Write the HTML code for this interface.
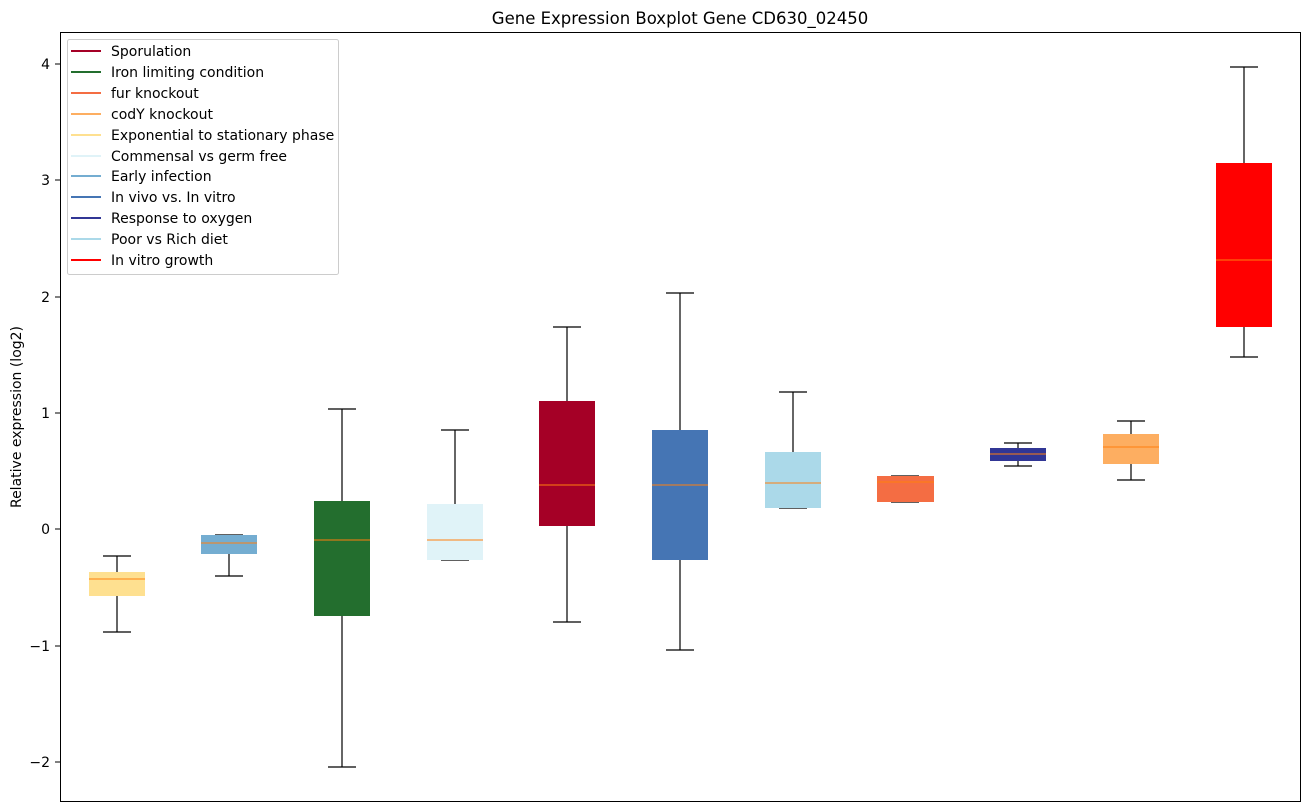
<!DOCTYPE html>
<html><head><meta charset="utf-8"><style>
html,body{margin:0;padding:0;background:#fff;}
svg{display:block;font-family:"DejaVu Sans","Liberation Sans",sans-serif;}
</style></head><body>
<svg width="1309" height="812" viewBox="0 0 1309 812" xmlns="http://www.w3.org/2000/svg">
<rect width="1309" height="812" fill="#fff"/>
<text x="680" y="24" font-size="16.5" text-anchor="middle" fill="#000">Gene Expression Boxplot Gene CD630_02450</text>
<text transform="translate(21,417) rotate(-90)" font-size="14" text-anchor="middle" fill="#000">Relative expression (log2)</text>
<g font-size="14" fill="#000" text-anchor="end">
<line x1="55" y1="64" x2="60" y2="64" stroke="#000"/><text x="50" y="69">4</text>
<line x1="55" y1="180" x2="60" y2="180" stroke="#000"/><text x="50" y="185">3</text>
<line x1="55" y1="297" x2="60" y2="297" stroke="#000"/><text x="50" y="302">2</text>
<line x1="55" y1="413" x2="60" y2="413" stroke="#000"/><text x="50" y="418">1</text>
<line x1="55" y1="529" x2="60" y2="529" stroke="#000"/><text x="50" y="534">0</text>
<line x1="55" y1="646" x2="60" y2="646" stroke="#000"/><text x="50" y="651">−1</text>
<line x1="55" y1="762" x2="60" y2="762" stroke="#000"/><text x="50" y="767">−2</text>
</g>
<g stroke="#000" stroke-width="1.2" fill="none">
<line x1="117" y1="556" x2="117" y2="632"/><line x1="103" y1="556" x2="131" y2="556"/><line x1="103" y1="632" x2="131" y2="632"/>
<line x1="229" y1="535" x2="229" y2="576"/><line x1="215" y1="535" x2="243" y2="535"/><line x1="215" y1="576" x2="243" y2="576"/>
<line x1="342" y1="409" x2="342" y2="767"/><line x1="328" y1="409" x2="356" y2="409"/><line x1="328" y1="767" x2="356" y2="767"/>
<line x1="455" y1="430" x2="455" y2="560"/><line x1="441" y1="430" x2="469" y2="430"/><line x1="441" y1="560" x2="469" y2="560"/>
<line x1="567" y1="327" x2="567" y2="622"/><line x1="553" y1="327" x2="581" y2="327"/><line x1="553" y1="622" x2="581" y2="622"/>
<line x1="680" y1="293" x2="680" y2="650"/><line x1="666" y1="293" x2="694" y2="293"/><line x1="666" y1="650" x2="694" y2="650"/>
<line x1="793" y1="392" x2="793" y2="508"/><line x1="779" y1="392" x2="807" y2="392"/><line x1="779" y1="508" x2="807" y2="508"/>
<line x1="891" y1="476" x2="919" y2="476"/><line x1="891" y1="502" x2="919" y2="502"/>
<line x1="1018" y1="443" x2="1018" y2="466"/><line x1="1004" y1="443" x2="1032" y2="443"/><line x1="1004" y1="466" x2="1032" y2="466"/>
<line x1="1131" y1="421" x2="1131" y2="480"/><line x1="1117" y1="421" x2="1145" y2="421"/><line x1="1117" y1="480" x2="1145" y2="480"/>
<line x1="1244" y1="67" x2="1244" y2="357"/><line x1="1230" y1="67" x2="1258" y2="67"/><line x1="1230" y1="357" x2="1258" y2="357"/>
</g>
<g stroke="none">
<rect x="89" y="572" width="56" height="24" fill="#fee090"/>
<rect x="201" y="535" width="56" height="19" fill="#74add1"/>
<rect x="314" y="501" width="56" height="115" fill="#236e2e"/>
<rect x="427" y="504" width="56" height="56" fill="#e0f3f8"/>
<rect x="539" y="401" width="56" height="125" fill="#a50026"/>
<rect x="652" y="430" width="56" height="130" fill="#4575b4"/>
<rect x="765" y="452" width="56" height="56" fill="#abd9e9"/>
<rect x="877" y="476" width="57" height="26" fill="#f46d43"/>
<rect x="990" y="448" width="56" height="13" fill="#313695"/>
<rect x="1103" y="434" width="56" height="30" fill="#fdae61"/>
<rect x="1216" y="163" width="56" height="164" fill="#ff0000"/>
</g>
<g stroke="#ff7f0e" stroke-width="1">
<line x1="89" y1="579" x2="145" y2="579"/>
<line x1="201" y1="543" x2="257" y2="543"/>
<line x1="314" y1="540" x2="370" y2="540"/>
<line x1="427" y1="540" x2="483" y2="540"/>
<line x1="539" y1="485" x2="595" y2="485"/>
<line x1="652" y1="485" x2="708" y2="485"/>
<line x1="765" y1="483" x2="821" y2="483"/>
<line x1="877" y1="482" x2="934" y2="482"/>
<line x1="990" y1="454" x2="1046" y2="454"/>
<line x1="1103" y1="447" x2="1159" y2="447"/>
<line x1="1216" y1="260" x2="1272" y2="260"/>
</g>
<rect x="60.5" y="32.5" width="1240" height="769" fill="none" stroke="#000" stroke-width="1"/>
<rect x="67.5" y="39.5" width="271" height="235" rx="2" fill="#fff" fill-opacity="0.8" stroke="#ccc"/>
<g stroke-width="2">
<line x1="71" y1="51" x2="101" y2="51" stroke="#a50026"/>
<line x1="71" y1="72" x2="101" y2="72" stroke="#236e2e"/>
<line x1="71" y1="93" x2="101" y2="93" stroke="#f46d43"/>
<line x1="71" y1="114" x2="101" y2="114" stroke="#fdae61"/>
<line x1="71" y1="135" x2="101" y2="135" stroke="#fee090"/>
<line x1="71" y1="156" x2="101" y2="156" stroke="#e0f3f8"/>
<line x1="71" y1="176" x2="101" y2="176" stroke="#74add1"/>
<line x1="71" y1="197" x2="101" y2="197" stroke="#4575b4"/>
<line x1="71" y1="218" x2="101" y2="218" stroke="#313695"/>
<line x1="71" y1="239" x2="101" y2="239" stroke="#abd9e9"/>
<line x1="71" y1="260" x2="101" y2="260" stroke="#ff0000"/>
</g>
<g font-size="14" fill="#000">
<text x="111" y="56">Sporulation</text>
<text x="111" y="77">Iron limiting condition</text>
<text x="111" y="98">fur knockout</text>
<text x="111" y="119">codY knockout</text>
<text x="111" y="140">Exponential to stationary phase</text>
<text x="111" y="161">Commensal vs germ free</text>
<text x="111" y="181">Early infection</text>
<text x="111" y="202">In vivo vs. In vitro</text>
<text x="111" y="223">Response to oxygen</text>
<text x="111" y="244">Poor vs Rich diet</text>
<text x="111" y="265">In vitro growth</text>
</g>
</svg>
</body></html>
